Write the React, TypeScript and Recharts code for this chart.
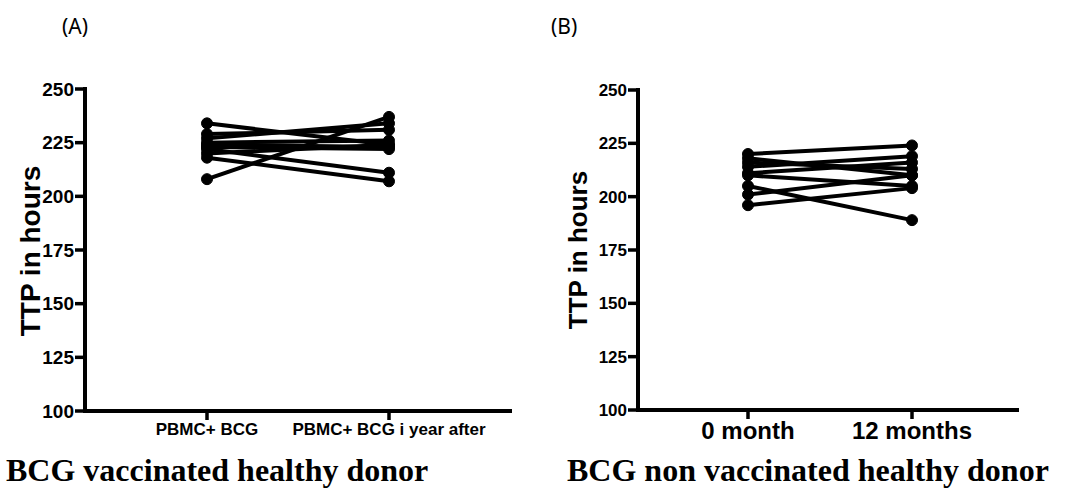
import { Line, LineChart, XAxis, YAxis } from 'recharts';

const catsA = ['PBMC+ BCG', 'PBMC+ BCG i year after'];
const beforeA = [234, 229, 227, 225, 223, 222, 220, 218, 208, 224];
const afterA = [224, 231, 234, 226, 222, 211, 224, 207, 237, 223];

const catsB = ['0 month', '12 months'];
const beforeB = [220, 218, 216, 214, 211, 210, 205, 201, 196];
const afterB = [224, 210, 213, 219, 216, 205, 189, 210, 204];

const yTicks = [100, 125, 150, 175, 200, 225, 250];

function buildRows(cats: string[], before: number[], after: number[]) {
  return cats.map((c, ci) => {
    const row: Record<string, string | number> = { cat: c };
    before.forEach((v, i) => {
      row['d' + i] = ci === 0 ? v : after[i];
    });
    return row;
  });
}

const rowsA = buildRows(catsA, beforeA, afterA);
const rowsB = buildRows(catsB, beforeB, afterB);

const sans = 'Liberation Sans, Arial, sans-serif';
const serif = 'Liberation Serif, Times New Roman, serif';

// recharts ignores strokeWidth on axis lines here, so force it with css
const css = `
.recharts-cartesian-axis-line { stroke: #000 !important; stroke-width: 4px !important; stroke-linecap: square; }
.recharts-cartesian-axis-tick-line { stroke: #000 !important; stroke-width: 3.5px !important; }
.recharts-cartesian-axis-tick-value { font-weight: bold; fill: #000; font-family: ${sans}; }
`;

function Panel({
  rows,
  n,
  width,
  height,
  margin,
  yWidth,
  xHeight,
  padding,
  yFont,
  xFont,
}: {
  rows: Record<string, string | number>[];
  n: number;
  width: number;
  height: number;
  margin: { top: number; right: number; bottom: number; left: number };
  yWidth: number;
  xHeight: number;
  padding: { left: number; right: number };
  yFont: number;
  xFont: number;
}) {
  return (
    <LineChart width={width} height={height} data={rows} margin={margin}>
      <XAxis
        dataKey="cat"
        padding={padding}
        height={xHeight}
        stroke="#000"
        tickSize={9}
        tickMargin={3}
        interval={0}
        tick={{ fill: '#000', fontSize: xFont }}
      />
      <YAxis
        domain={[100, 250]}
        ticks={yTicks}
        width={yWidth}
        stroke="#000"
        tickSize={10}
        tickMargin={1}
        interval={0}
        tick={{ fill: '#000', fontSize: yFont }}
      />
      {Array.from({ length: n }, (_, i) => (
        <Line
          key={i}
          dataKey={'d' + i}
          stroke="#000"
          strokeWidth={4}
          dot={{ r: 5.5, fill: '#000', stroke: '#000', strokeWidth: 1 }}
          isAnimationActive={false}
        />
      ))}
    </LineChart>
  );
}

export default function App() {
  return (
    <div style={{ position: 'absolute', left: 0, top: 0, width: 1071, height: 493, background: '#fff' }}>
      <style>{css}</style>
      <div style={{ position: 'absolute', left: 0, top: 0 }}>
        <Panel
          rows={rowsA}
          n={beforeA.length}
          width={530}
          height={493}
          margin={{ top: 89, right: 20, bottom: 52, left: 30 }}
          yWidth={55}
          xHeight={30}
          padding={{ left: 122, right: 121 }}
          yFont={19}
          xFont={17}
        />
      </div>
      <div style={{ position: 'absolute', left: 530, top: 0 }}>
        <Panel
          rows={rowsB}
          n={beforeB.length}
          width={541}
          height={493}
          margin={{ top: 90, right: 54, bottom: 48, left: 60 }}
          yWidth={48}
          xHeight={35}
          padding={{ left: 110, right: 105 }}
          yFont={17}
          xFont={24}
        />
      </div>
      <div style={{ position: 'absolute', left: 62, top: 12, fontFamily: 'Noto Sans, sans-serif', fontSize: 21 }}>(A)</div>
      <div style={{ position: 'absolute', left: 551, top: 12, fontFamily: 'Noto Sans, sans-serif', fontSize: 21 }}>(B)</div>
      <div
        style={{
          position: 'absolute',
          left: 31,
          top: 251,
          transform: 'translate(-50%, -50%) rotate(-90deg)',
          whiteSpace: 'nowrap',
          fontFamily: sans,
          fontWeight: 'bold',
          fontSize: 28,
        }}
      >
        TTP in hours
      </div>
      <div
        style={{
          position: 'absolute',
          left: 578,
          top: 250,
          transform: 'translate(-50%, -50%) rotate(-90deg)',
          whiteSpace: 'nowrap',
          fontFamily: sans,
          fontWeight: 'bold',
          fontSize: 26,
        }}
      >
        TTP in hours
      </div>
      <div
        style={{ position: 'absolute', left: 6, top: 452, whiteSpace: 'nowrap', fontFamily: serif, fontWeight: 'bold', fontSize: 32 }}
      >
        BCG vaccinated healthy donor
      </div>
      <div
        style={{ position: 'absolute', left: 567, top: 452, whiteSpace: 'nowrap', fontFamily: serif, fontWeight: 'bold', fontSize: 32 }}
      >
        BCG non vaccinated healthy donor
      </div>
    </div>
  );
}
